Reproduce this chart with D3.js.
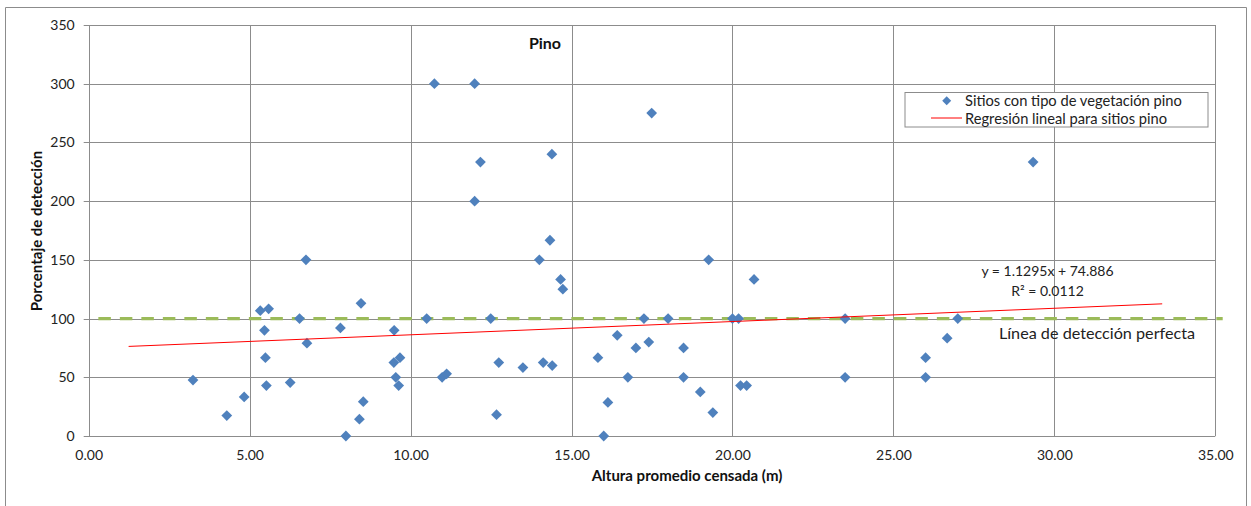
<!DOCTYPE html>
<html>
<head>
<meta charset="utf-8">
<script src="https://cdn.jsdelivr.net/npm/d3@7"></script>
<style>
  html, body { margin: 0; padding: 0; background: #fff; }
  svg { display: block; font-family: Lato, "Open Sans", sans-serif; }
</style>
</head>
<body>
<svg id="chart" width="1251" height="506"></svg>
<script>
// Sitios con tipo de vegetación pino: altura promedio censada (m) vs. porcentaje de detección
const alturas = [
  3.24, 4.29, 4.83, 5.33, 5.46, 5.49, 5.52, 5.59, 6.26, 6.55,
  6.75, 6.78, 7.82, 7.99, 8.41, 8.46, 8.53, 9.49, 9.48, 9.54,
  9.63, 9.67, 10.50, 10.74, 10.98, 11.12, 11.99, 11.99, 12.17, 12.49,
  12.67, 12.74, 13.49, 14.00, 14.12, 14.33, 14.39, 14.40, 14.66, 14.73,
  15.82, 16.00, 16.13, 16.42, 16.75, 17.00, 17.25, 17.40, 17.49, 18.00,
  18.48, 18.48, 19.00, 19.26, 19.39, 20.00, 20.19, 20.25, 20.44, 20.67,
  23.50, 23.50, 26.00, 26.00, 26.67, 27.00, 29.34
];
const porcentajes = [
  47.6, 17.4, 33.3, 106.7, 90, 66.7, 42.9, 108.3, 45.5, 100,
  150, 79, 92, 0, 14.3, 113, 29.2, 90, 62.5, 50,
  42.9, 66.7, 100, 300, 50, 53, 300, 200, 233.3, 100,
  18.2, 62.5, 58.3, 150, 62.5, 166.7, 240, 60, 133.3, 125,
  66.7, 0, 28.6, 85.7, 50, 75, 100, 80, 275, 100,
  75, 50, 37.5, 150, 20, 100, 100, 42.9, 42.9, 133.3,
  100, 50, 66.7, 50, 83.3, 100, 233.3
];

// Linear trend: y = 1.1295x + 74.886, R² = 0.0112
const pendiente = 1.1295;
const intercepto = 74.886;
const r2 = 0.0112;
const rangoTendencia = [1.24, 33.35];

const deteccionPerfecta = 100;
const rangoPerfecta = [0.3, 35.23];

const xTicks = [0, 5, 10, 15, 20, 25, 30, 35];
const yTicks = [0, 50, 100, 150, 200, 250, 300, 350];

const svg = d3.select("#chart");
const W = 1251, H = 506;

// outer chart frame
svg.append("path")
  .attr("d", `M5.5,${H} V7.5 H1246.5 V${H}`)
  .attr("fill", "none").attr("stroke", "#8c8c8c").attr("stroke-width", 1);

const plotL = 88.7, plotR = 1215.3, plotT = 25, plotB = 436;
const x = d3.scaleLinear().domain([0, 35]).range([plotL, plotR]);
const y = d3.scaleLinear().domain([0, 350]).range([plotB, plotT]);

// gridlines
const grid = svg.append("g").attr("stroke", "#8c8c8c").attr("stroke-width", 1);
grid.selectAll("line.v").data(xTicks).join("line")
  .attr("x1", d => Math.round(x(d)) + 0.5).attr("x2", d => Math.round(x(d)) + 0.5)
  .attr("y1", y(350)).attr("y2", y(0));
grid.selectAll("line.h").data(yTicks).join("line")
  .attr("x1", x(0) - 5).attr("x2", x(35))
  .attr("y1", d => Math.round(y(d)) + 0.5).attr("y2", d => Math.round(y(d)) + 0.5);

// axes (labels only; lines come from the grid)
const yAxis = d3.axisLeft(y).tickValues(yTicks).tickFormat(d3.format("d")).tickSize(0).tickPadding(14);
const gy = svg.append("g").attr("transform", `translate(${x(0)},0)`).call(yAxis);
const xAxis = d3.axisBottom(x).tickValues(xTicks).tickFormat(d3.format(".2f")).tickSize(0).tickPadding(14);
const gx = svg.append("g").attr("transform", `translate(0,${y(0)})`).call(xAxis);
[gx, gy].forEach(g => {
  g.select(".domain").remove();
  g.selectAll("text").attr("font-size", 14).attr("fill", "#222").attr("font-family", "Lato, sans-serif");
});

// perfect detection line
svg.append("line")
  .attr("x1", x(rangoPerfecta[0])).attr("x2", x(rangoPerfecta[1]))
  .attr("y1", y(deteccionPerfecta)).attr("y2", y(deteccionPerfecta))
  .attr("stroke", "#9bbb59").attr("stroke-width", 3.2)
  .attr("stroke-dasharray", "12.5,9");

// points
const diamond = d3.symbol().type(d3.symbolSquare).size(58);
svg.append("g").selectAll("path").data(alturas.map((a, i) => [a, porcentajes[i]])).join("path")
  .attr("d", diamond)
  .attr("transform", d => `translate(${x(d[0])},${y(d[1])}) rotate(45)`)
  .attr("fill", "#4f81bd");

// trend line
svg.append("line")
  .attr("x1", x(rangoTendencia[0])).attr("x2", x(rangoTendencia[1]))
  .attr("y1", y(pendiente * rangoTendencia[0] + intercepto))
  .attr("y2", y(pendiente * rangoTendencia[1] + intercepto))
  .attr("stroke", "#ff0000").attr("stroke-width", 1);

// titles
svg.append("text").attr("x", 545).attr("y", 49).attr("text-anchor", "middle")
  .attr("font-size", 16).attr("font-weight", "bold").attr("fill", "#111").text("Pino");

svg.append("text").attr("x", 687).attr("y", 480.5).attr("text-anchor", "middle")
  .attr("font-size", 15).attr("font-weight", "bold").attr("fill", "#111")
  .text("Altura promedio censada (m)");

svg.append("text").attr("transform", `translate(41.5,231) rotate(-90)`).attr("text-anchor", "middle")
  .attr("font-size", 15).attr("font-weight", "bold").attr("fill", "#111")
  .text("Porcentaje de detección");

// equation and R²
svg.append("text").attr("x", 1047.5).attr("y", 276).attr("text-anchor", "middle")
  .attr("font-size", 14).attr("fill", "#222")
  .text(`y = ${pendiente}x + ${intercepto}`);
svg.append("text").attr("x", 1047.5).attr("y", 295.5).attr("text-anchor", "middle")
  .attr("font-size", 14).attr("fill", "#222")
  .text(`R² = ${r2}`);

svg.append("text").attr("x", 1097).attr("y", 338.5).attr("text-anchor", "middle")
  .attr("font-size", 16.2).attr("fill", "#222")
  .text("Línea de detección perfecta");

// legend
const lg = svg.append("g");
lg.append("rect").attr("x", 905).attr("y", 92.5).attr("width", 303).attr("height", 34.5)
  .attr("fill", "#fff").attr("stroke", "#8c8c8c").attr("stroke-width", 1);
lg.append("path").attr("d", d3.symbol().type(d3.symbolSquare).size(40))
  .attr("transform", "translate(946.7,100.7) rotate(45)").attr("fill", "#4f81bd");
lg.append("line").attr("x1", 931).attr("x2", 962).attr("y1", 118).attr("y2", 118)
  .attr("stroke", "#ff0000").attr("stroke-width", 1);
lg.append("text").attr("x", 965).attr("y", 105.5).attr("font-size", 14.7).attr("fill", "#222")
  .text("Sitios con tipo de vegetación pino");
lg.append("text").attr("x", 965).attr("y", 123.5).attr("font-size", 14.7).attr("fill", "#222")
  .text("Regresión lineal para sitios pino");
</script>
</body>
</html>
